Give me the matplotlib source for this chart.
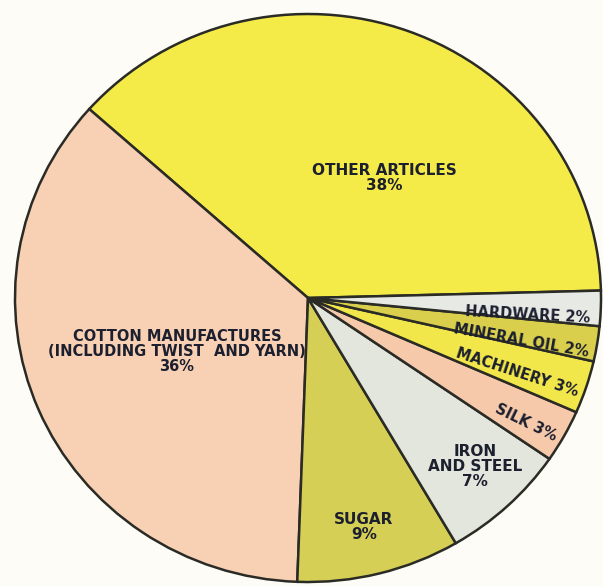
import matplotlib.pyplot as plt

# share of exports (percent)
names = ["OTHER ARTICLES", "COTTON MANUFACTURES\n(INCLUDING TWIST  AND YARN)", "SUGAR",
         "IRON\nAND STEEL", "SILK", "MACHINERY", "MINERAL OIL", "HARDWARE"]
shares = [38, 36, 9, 7, 3, 3, 2, 2]
colors = ["#f4ea48", "#f8d1b5", "#d6cf55", "#e3e6dc", "#f6c9ab", "#f1e64a", "#d9cf4c", "#e6e9e4"]

# label layout: (x, y) in pie units, rotation, size, one-line or stacked
label_pos = [(0.259, 0.423), (-0.447, -0.187), (0.191, -0.806), (0.570, -0.592),
             (0.744, -0.437), (0.713, -0.264), (0.727, -0.151), (0.751, -0.060)]
label_rot = [0, 0, 0, 0, -26, -18, -10, -3]
label_size = [11, 10.5, 11, 11, 10.5, 10.5, 10.5, 10.5]
inline = [False, False, False, False, True, True, True, True]

bg = "#fdfcf6"
ink = "#1c1f2e"

fig = plt.figure(figsize=(6.03, 5.86), dpi=100, facecolor=bg)
ax = fig.add_axes([0, 0, 1, 1])
ax.set_facecolor(bg)

wedges, _ = ax.pie(shares, colors=colors, startangle=1.5, counterclock=True,
                   radius=1.0, center=(0, 0),
                   wedgeprops=dict(edgecolor="#2b2b26", linewidth=1.8))

for i, (name, val) in enumerate(zip(names, shares)):
    txt = f"{name} {val}%" if inline[i] else f"{name}\n{val}%"
    ax.text(label_pos[i][0], label_pos[i][1], txt, ha="center", va="center",
            rotation=label_rot[i], rotation_mode="anchor", fontsize=label_size[i],
            fontweight="bold", color=ink, linespacing=1.0, family="DejaVu Sans")

# scan is slightly wider than tall: centre at (308, 298) px, radii 293 x 284 px
ax.set_aspect("auto")
ax.set_xlim(-308 / 293, (603 - 308) / 293)
ax.set_ylim(-(586 - 298) / 284, 298 / 284)
ax.axis("off")

fig.savefig("out.png", dpi=100, facecolor=bg)
